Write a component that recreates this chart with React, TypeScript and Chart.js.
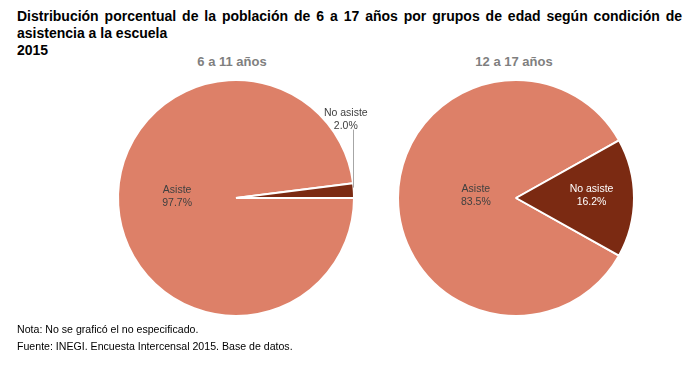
import React, { useEffect, useRef } from "react";
import { Chart, registerables } from "chart.js";

Chart.register(...registerables);

const categories = ["Asiste", "No asiste"];
const groupTitles = ["6 a 11 años", "12 a 17 años"];
const values6to11 = [97.7, 2.0];
const values12to17 = [83.5, 16.2];
const sliceColors = ["#DD8068", "#7B2A12"];

const FONT = "'Liberation Sans', Arial, Helvetica, sans-serif";
const CW = 300;
const CH = 260;

type LabelCfg = { outside?: boolean; frac?: number; dx?: number; dy?: number; color: string };

const sliceLabelPlugin = {
  id: "sliceLabels",
  afterDatasetsDraw(chart: any, _args: any, opts: any) {
    const ctx = chart.ctx;
    const meta = chart.getDatasetMeta(0);
    const data = chart.data.datasets[0].data as number[];
    const cfgs: LabelCfg[] = opts.labels || [];
    meta.data.forEach((arc: any, i: number) => {
      const cfg = cfgs[i];
      if (!cfg) return;
      const p = arc.getProps(["x", "y", "startAngle", "endAngle", "outerRadius"], true);
      const mid = (p.startAngle + p.endAngle) / 2;
      const lines = [String(chart.data.labels[i]), data[i].toFixed(1) + "%"];
      let lx: number, ly: number;
      ctx.save();
      if (cfg.outside) {
        const ox = p.x + Math.cos(mid) * p.outerRadius;
        const oy = p.y + Math.sin(mid) * p.outerRadius;
        lx = ox + (cfg.dx || 0);
        ly = oy + (cfg.dy || 0);
        ctx.strokeStyle = "#A6A6A6";
        ctx.lineWidth = 1;
        ctx.beginPath();
        const xx = Math.round(ox) - 0.5;
        ctx.moveTo(xx, oy - 3);
        ctx.lineTo(xx, ly + 10);
        ctx.stroke();
      } else {
        const f = cfg.frac ?? 0.5;
        lx = p.x + Math.cos(mid) * p.outerRadius * f + (cfg.dx || 0);
        ly = p.y + Math.sin(mid) * p.outerRadius * f + (cfg.dy || 0);
      }
      ctx.font = `10.5px ${FONT}`;
      ctx.fillStyle = cfg.color;
      ctx.textAlign = "center";
      ctx.textBaseline = "middle";
      ctx.fillText(lines[0], lx, ly - 6.5);
      ctx.fillText(lines[1], lx, ly + 6.5);
      ctx.restore();
    });
  },
};

function Pie({
  values,
  rotation,
  labels,
  style,
}: {
  values: number[];
  rotation: number;
  labels: LabelCfg[];
  style: React.CSSProperties;
}) {
  const ref = useRef<HTMLCanvasElement>(null);
  useEffect(() => {
    if (!ref.current) return;
    const chart = new Chart(ref.current, {
      type: "pie",
      data: {
        labels: categories,
        datasets: [
          {
            data: values,
            backgroundColor: sliceColors,
            borderColor: "#FFFFFF",
            borderWidth: 2,
          },
        ],
      },
      options: {
        animation: false,
        responsive: false,
        events: [],
        rotation,
        radius: 118,
        layout: { padding: 0 },
        plugins: {
          legend: { display: false },
          tooltip: { enabled: false },
          title: { display: false },
          sliceLabels: { labels },
        } as any,
      },
      plugins: [sliceLabelPlugin as any],
    });
    return () => chart.destroy();
  }, []);
  return <canvas ref={ref} width={CW} height={CH} style={{ position: "absolute", width: CW, height: CH, ...style }} />;
}

export default function App() {
  const leftRotation = 90;
  const rightShare = (360 * values12to17[1]) / (values12to17[0] + values12to17[1]);
  const rightRotation = 90 + rightShare / 2;
  const subTitle: React.CSSProperties = {
    position: "absolute",
    top: 54,
    width: 200,
    textAlign: "center",
    font: `bold 13px ${FONT}`,
    color: "#7F7F7F",
    lineHeight: "16px",
  };
  const note: React.CSSProperties = {
    position: "absolute",
    left: 17,
    font: `10.6px ${FONT}`,
    color: "#000",
    lineHeight: "14px",
    whiteSpace: "nowrap",
  };
  return (
    <div style={{ position: "fixed", left: 0, top: 0, width: 699, height: 367, background: "#fff", overflow: "hidden" }}>
      <div
        style={{
          position: "absolute",
          left: 17,
          top: 8,
          width: 665,
          font: `bold 14px ${FONT}`,
          lineHeight: "17px",
          textAlign: "justify",
          color: "#000",
        }}
      >
        Distribución porcentual de la población de 6 a 17 años por grupos de edad según condición de asistencia a la escuela
      </div>
      <div style={{ position: "absolute", left: 17, top: 42, font: `bold 14px ${FONT}`, lineHeight: "17px", color: "#000" }}>
        2015
      </div>
      <div style={{ ...subTitle, left: 132 }}>{groupTitles[0]}</div>
      <div style={{ ...subTitle, left: 414 }}>{groupTitles[1]}</div>
      <Pie
        values={values6to11}
        rotation={leftRotation}
        labels={[
          { frac: 0.5, dy: -5, color: "#404040" },
          { outside: true, dx: -8, dy: -71, color: "#404040" },
        ]}
        style={{ left: 236 - CW / 2, top: 198 - CH / 2 }}
      />
      <Pie
        values={values12to17}
        rotation={rightRotation}
        labels={[
          { frac: 0.34, dy: -2, color: "#404040" },
          { frac: 0.64, dy: -2, color: "#FFFFFF" },
        ]}
        style={{ left: 516 - CW / 2, top: 198 - CH / 2 }}
      />
      <div style={{ ...note, top: 322 }}>Nota: No se graficó el no especificado.</div>
      <div style={{ ...note, top: 339 }}>Fuente: INEGI. Encuesta Intercensal 2015. Base de datos.</div>
    </div>
  );
}
